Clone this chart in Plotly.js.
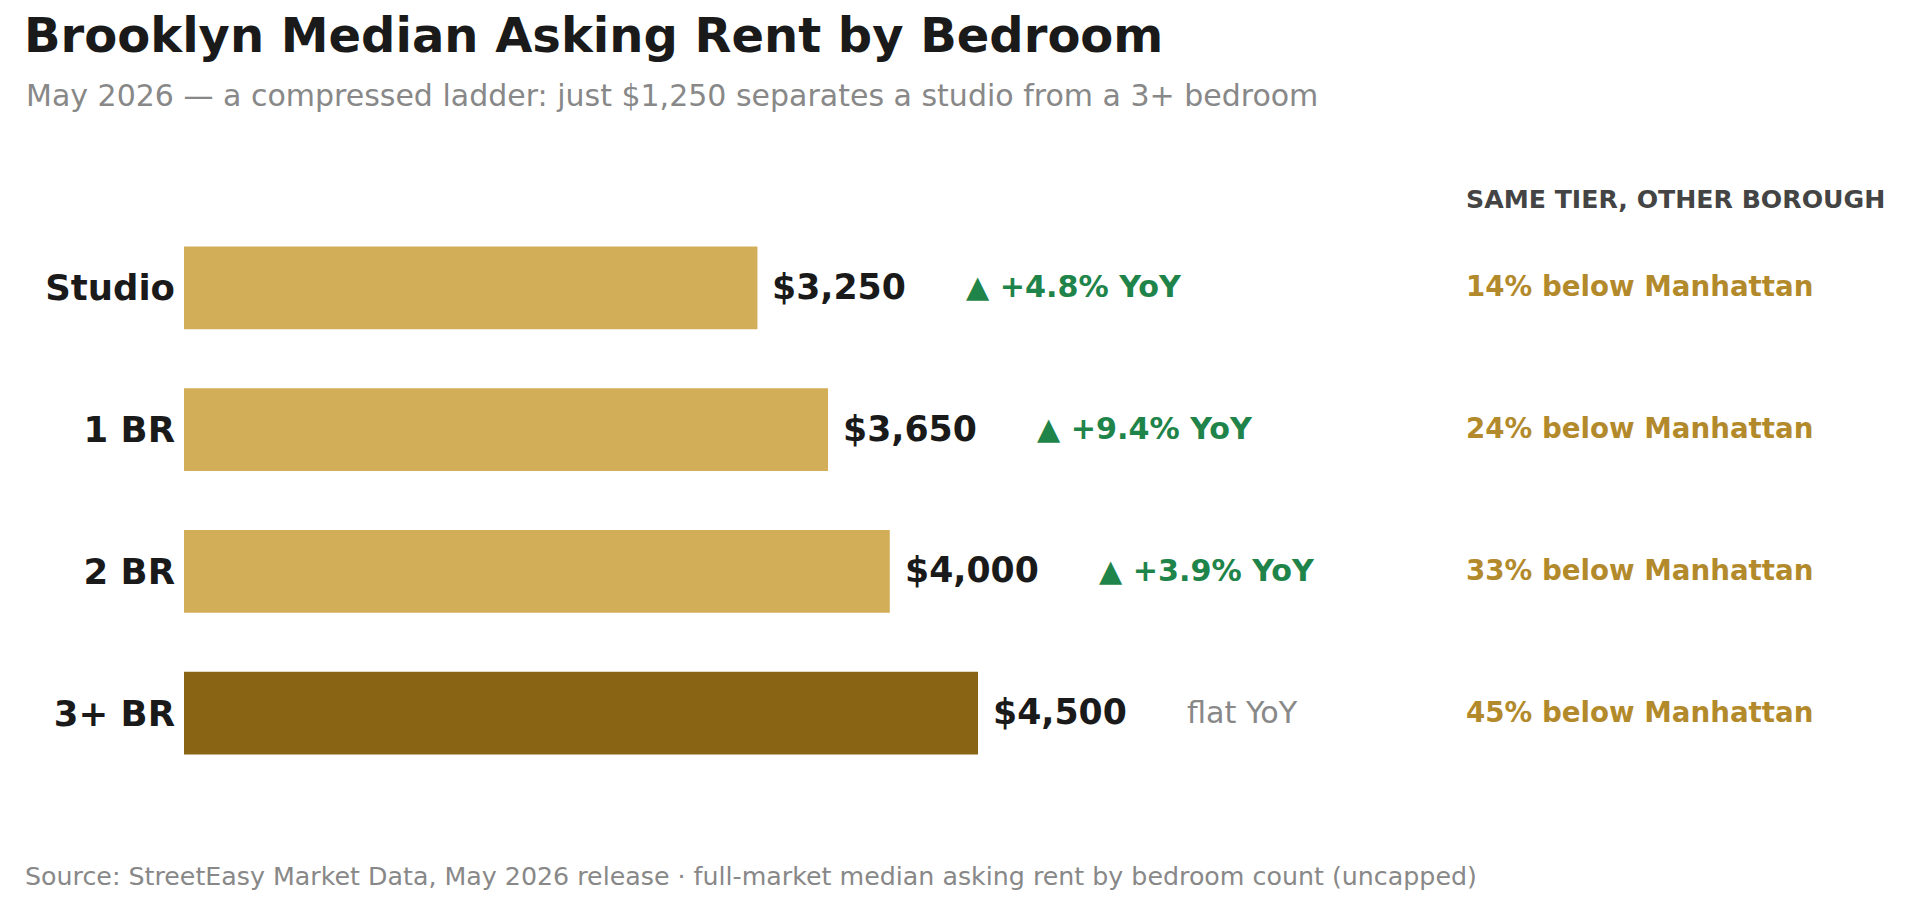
<!DOCTYPE html>
<html>
<head>
<meta charset="utf-8">
<script src="https://cdn.plot.ly/plotly-3.0.1.min.js"></script>
<style>
  html, body { margin: 0; padding: 0; background: #ffffff; }
  #chart { width: 1920px; height: 910px; }
</style>
</head>
<body>
<div id="chart"></div>
<script>
// ---- Data ----
const categories = ["Studio", "1 BR", "2 BR", "3+ BR"];
const medianRent = [3250, 3650, 4000, 4500];
const yoyChange = [4.8, 9.4, 3.9, 0];
const belowManhattanPct = [14, 24, 33, 45];

const titleText = "Brooklyn Median Asking Rent by Bedroom";
const subtitleText = "May 2026 \u2014 a compressed ladder: just $1,250 separates a studio from a 3+ bedroom";
const columnHeader = "SAME TIER, OTHER BOROUGH";
const sourceText = "Source: StreetEasy Market Data, May 2026 release \u00b7 full-market median asking rent by bedroom count (uncapped)";

// ---- Styles ----
const FONT = "DejaVu Sans, Verdana, sans-serif";
const GOLD = "#D3AE59";
const GOLD_DARK = "#8A6415";
const GREEN = "#1E8449";
const GRAY = "#888888";
const INK = "#1a1a1a";
const ACCENT_TEXT = "#B38A2B";

// layout geometry (pixels)
const W = 1920, H = 910;
const ML = 184, MR = 148, MT = 216.5, MB = 125.5;
const PW = W - ML - MR, PH = H - MT - MB;
const px2x = p => (p - ML) / PW;
const py2y = p => (H - MB - p) / PH;

const barColors = categories.map((c, i) => i === categories.length - 1 ? GOLD_DARK : GOLD);

const trace = {
  type: "bar",
  orientation: "h",
  x: medianRent,
  y: categories,
  marker: { color: barColors, line: { width: 0 } },
  hoverinfo: "skip",
  width: 0.585
};

const annotations = [];

categories.forEach((c, i) => {
  const v = medianRent[i];
  annotations.push({
    x: v, y: c, xref: "x", yref: "y",
    xanchor: "left", yanchor: "middle", xshift: 13, yshift: 1,
    text: "<b>$" + v.toLocaleString("en-US") + "</b>",
    showarrow: false,
    font: { family: FONT, size: 34.7, color: INK }
  });
  const g = yoyChange[i];
  annotations.push({
    x: v, y: c, xref: "x", yref: "y",
    xanchor: "left", yanchor: "middle", xshift: 207, yshift: 1,
    text: g > 0 ? "<b>\u25B2 +" + g.toFixed(1) + "% YoY</b>" : "flat YoY",
    showarrow: false,
    font: { family: FONT, size: 30.2, color: g > 0 ? GREEN : GRAY }
  });
  annotations.push({
    x: px2x(1464), y: c, xref: "paper", yref: "y",
    xanchor: "left", yanchor: "middle", yshift: 1,
    text: "<b>" + belowManhattanPct[i] + "% below Manhattan</b>",
    showarrow: false,
    font: { family: FONT, size: 27.7, color: ACCENT_TEXT }
  });
});

annotations.push({
  x: px2x(1464), y: py2y(199), xref: "paper", yref: "paper",
  xanchor: "left", yanchor: "middle",
  text: "<b>" + columnHeader + "</b>",
  showarrow: false,
  font: { family: FONT, size: 25.2, color: "#444444" }
});

annotations.push({
  x: px2x(24), y: py2y(95), xref: "paper", yref: "paper",
  xanchor: "left", yanchor: "middle",
  text: subtitleText,
  showarrow: false,
  font: { family: FONT, size: 30, color: GRAY }
});

annotations.push({
  x: px2x(23), y: py2y(877.5), xref: "paper", yref: "paper",
  xanchor: "left", yanchor: "middle",
  text: sourceText,
  showarrow: false,
  font: { family: FONT, size: 25.3, color: GRAY }
});

const layout = {
  width: W, height: H,
  margin: { l: ML, r: MR, t: MT, b: MB, pad: 0 },
  paper_bgcolor: "#ffffff",
  plot_bgcolor: "#ffffff",
  showlegend: false,
  hovermode: false,
  title: {
    text: "<b>" + titleText + "</b>",
    x: 24 / W, xref: "container", xanchor: "left",
    y: 1 - 35 / H, yref: "container", yanchor: "middle",
    font: { family: FONT, size: 48, color: INK }
  },
  xaxis: {
    range: [0, 9000],
    visible: false,
    showgrid: false,
    zeroline: false,
    fixedrange: true
  },
  yaxis: {
    type: "category",
    categoryorder: "array",
    categoryarray: categories,
    autorange: "reversed",
    showgrid: false,
    zeroline: false,
    showline: false,
    ticks: "",
    ticklabelstandoff: 8,
    tickfont: { family: FONT, size: 35.5, color: INK, weight: "bold" },
    fixedrange: true
  },
  annotations: annotations
};

Plotly.newPlot("chart", [trace], layout, { displayModeBar: false, staticPlot: true });
</script>
</body>
</html>
